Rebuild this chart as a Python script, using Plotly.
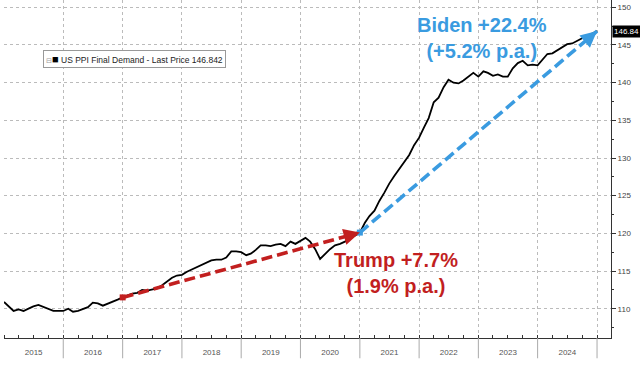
import pandas as pd
import plotly.graph_objects as go

# ---- data (monthly, Jan 2015 .. Jan 2025) ----
dates = pd.date_range("2015-01-01", "2025-01-01", freq="MS")
ppi_values = [
    110.9, 110.2, 109.7, 109.9, 109.7, 110.0, 110.3, 110.5, 110.2, 109.9, 109.7, 109.7,   # 2015
    109.7, 110.0, 109.6, 109.7, 109.9, 110.2, 110.8, 110.7, 110.4, 110.7, 111.0, 111.2,   # 2016
    111.5, 111.8, 112.0, 112.1, 112.5, 112.4, 112.5, 112.7, 113.1, 113.6, 114.1, 114.4,   # 2017
    114.5, 114.9, 115.2, 115.5, 115.8, 116.1, 116.4, 116.5, 116.5, 116.8, 117.6, 117.6,   # 2018
    117.5, 117.1, 117.3, 117.8, 118.4, 118.4, 118.3, 118.5, 118.6, 118.3, 118.9, 118.6,   # 2019
    119.0, 119.4, 118.9, 117.9, 116.6, 117.3, 117.9, 118.4, 118.6, 118.9, 119.3, 119.6,   # 2020
    120.1, 121.4, 122.3, 123.0, 124.3, 125.4, 126.6, 127.6, 128.6, 129.5, 130.4, 131.7,   # 2021
    132.7, 134.1, 135.3, 137.4, 138.0, 139.4, 140.4, 140.0, 139.9, 140.3, 140.8, 141.3,   # 2022
    140.8, 141.5, 141.3, 140.9, 141.1, 140.8, 140.8, 141.9, 142.6, 142.9, 142.3, 142.4,   # 2023
    142.3, 143.1, 143.8, 143.9, 144.3, 144.6, 145.1, 145.2, 145.6, 145.9, 146.2, 146.5,   # 2024
    146.842,                                                                              # Jan 2025
]
series_name = "US PPI Final Demand - Last Price"
last_price = 146.842

trump_period = ["2017-01-01", "2021-01-01"]
biden_period = ["2021-01-01", "2025-01-01"]
trump_label = "Trump +7.7%<br>(1.9% p.a.)"
biden_label = "Biden +22.4%<br>(+5.2% p.a.)"

year_boundaries = [f"{y}-01-01" for y in range(2016, 2026)]
y_ticks = [110, 115, 120, 125, 130, 135, 140, 145, 150]

s = pd.Series(ppi_values, index=dates)

def val(d):
    return float(s.loc[pd.Timestamp(d)])

RED = "#c21f1f"
BLUE = "#3a9be0"
FONT = "Liberation Sans, Arial, sans-serif"

fig = go.Figure()
fig.add_trace(go.Scatter(x=dates, y=ppi_values, mode="lines",
                         line=dict(color="black", width=1.8), name=series_name,
                         showlegend=False))

for period, color in [(trump_period, RED), (biden_period, BLUE)]:
    xs = period
    ys = [val(period[0]), val(period[1])]
    fig.add_trace(go.Scatter(x=xs, y=ys, mode="lines",
                             line=dict(color=color, width=3.6, dash="11px,5px"),
                             showlegend=False))
    fig.add_trace(go.Scatter(x=[xs[0]], y=[ys[0]], mode="markers",
                             marker=dict(color=color, size=6, symbol="square"),
                             showlegend=False))
    # arrowhead at the end
    back = (pd.Timestamp(period[1]) - pd.DateOffset(months=2)).strftime("%Y-%m-%d")
    frac = 2 / 48
    fig.add_annotation(x=period[1], y=ys[1], ax=back, ay=ys[1] - (ys[1] - ys[0]) * frac,
                       xref="x", yref="y", axref="x", ayref="y", text="",
                       showarrow=True, arrowhead=2, arrowsize=0.9, arrowwidth=3.6,
                       arrowcolor=color)

# text annotations
fig.add_annotation(xref="paper", yref="paper", x=0.7875, y=0.888, text=biden_label,
                   showarrow=False,
                   font=dict(family=FONT, size=20, color=BLUE, weight="bold"),
                   xanchor="center", yanchor="middle")
fig.add_annotation(xref="paper", yref="paper", x=0.6465, y=0.193, text=trump_label,
                   showarrow=False,
                   font=dict(family=FONT, size=20, color=RED, weight="bold"),
                   xanchor="center", yanchor="middle")

# legend box
fig.add_annotation(xref="paper", yref="paper", x=0.0645, y=0.8254,
                   text=(f"<span style='color:#999;font-size:7px'>⊟</span>"
                         f"<span style='font-size:11px;color:black'>■</span> "
                         f"{series_name} {last_price:.3f}"),
                   showarrow=False, xanchor="left", yanchor="middle",
                   font=dict(family=FONT, size=8.5, color="#222"),
                   bgcolor="white", bordercolor="#999", borderwidth=1, borderpad=2)

# last price tag
fig.add_annotation(xref="paper", yref="y", x=1, y=last_price, xshift=1,
                   text=f"{last_price:.2f}", showarrow=False, xanchor="left",
                   yanchor="middle", font=dict(family=FONT, size=8, color="white"),
                   bgcolor="black", borderpad=1)

# year separators below the axis
for b in year_boundaries:
    fig.add_shape(type="line", xref="x", yref="paper", x0=b, x1=b, y0=0, y1=-0.06,
                  line=dict(color="#aaa", width=1))

fig.update_layout(
    width=640, height=366,
    margin=dict(l=4, r=29, t=0, b=28),
    paper_bgcolor="white", plot_bgcolor="white",
    font=dict(family=FONT, size=8, color="#444"),
    showlegend=False,
    xaxis=dict(type="date", range=["2015-01-01", "2025-03-28"],
               dtick="M12", tick0="2015-01-01", tickformat="%Y",
               ticklabelmode="period", ticks="inside", ticklen=3, tickcolor="#333",
               minor=dict(dtick="M3", ticks="inside", ticklen=3, tickcolor="#333", showgrid=False),
               showline=True, linecolor="#333", linewidth=1,
               showgrid=True, gridcolor="#bbb", griddash="dot", gridwidth=1,
               ticklabelstandoff=6, tickfont=dict(size=8, color="#555"),
               zeroline=False, fixedrange=True),
    yaxis=dict(side="right", range=[106.11, 150.97], tickvals=y_ticks,
               ticks="outside", ticklen=4, tickcolor="#333",
               minor=dict(dtick=2.5, tick0=110, ticks="outside", ticklen=2, tickcolor="#333", showgrid=False),
               showline=True, linecolor="#333", linewidth=1,
               showgrid=True, gridcolor="#bbb", griddash="dot", gridwidth=1,
               tickfont=dict(size=8, color="#444"), zeroline=False),
)

fig.write_html("out.html", config={"displayModeBar": False},
               post_script="document.body.style.margin='0';document.body.style.overflow='hidden';")
